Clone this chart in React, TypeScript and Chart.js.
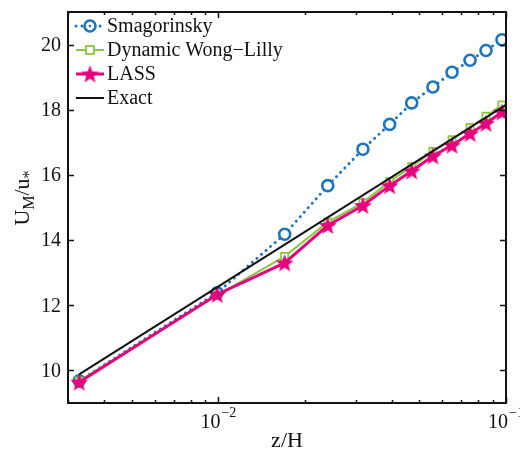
import React, { useEffect, useRef } from "react";
import { Chart, registerables } from "chart.js";

Chart.register(...registerables);

// ---- data ----
const zOverH = [0.00328, 0.0099, 0.017, 0.024, 0.0318, 0.0394, 0.047, 0.0557, 0.0649, 0.075, 0.0852, 0.0968];
const smagorinsky = [9.68, 12.38, 14.18, 15.67, 16.79, 17.55, 18.21, 18.7, 19.15, 19.52, 19.82, 20.15];
const dynamicWongLilly = [9.68, 12.3, 13.5, 14.55, 15.15, 15.8, 16.25, 16.72, 17.08, 17.46, 17.8, 18.15];
const lass = [9.64, 12.33, 13.3, 14.45, 15.06, 15.67, 16.12, 16.58, 16.91, 17.27, 17.58, 17.93];
const exactZ = [0.00328, 0.1];
const exactU = [9.88, 18.15];

const yTickValues = [10, 12, 14, 16, 18, 20];
const xMajorTicks = [0.01, 0.1];
const xMajorLabels = [{ base: "10", exp: "\u22122" }, { base: "10", exp: "\u22121" }];
const xMinorTicks = [0.003, 0.004, 0.005, 0.006, 0.007, 0.008, 0.009, 0.02, 0.03, 0.04, 0.05, 0.06, 0.07, 0.08, 0.09];
const legendLabels = ["Smagorinsky", "Dynamic Wong\u2212Lilly", "LASS", "Exact"];

const BLUE = "#1b75bf";
const GREEN = "#8dc63f";
const MAGENTA = "#e6007e";
const BLACK = "#111111";
const SERIF = '"Liberation Serif", "Times New Roman", serif';

function makeStar(color: string, outer: number, inner: number) {
  const size = Math.ceil(outer * 2 + 2);
  const c = document.createElement("canvas");
  c.width = size;
  c.height = size;
  const ctx = c.getContext("2d")!;
  ctx.fillStyle = color;
  ctx.beginPath();
  for (let i = 0; i < 10; i++) {
    const r = i % 2 === 0 ? outer : inner;
    const a = -Math.PI / 2 + (i * Math.PI) / 5;
    const x = size / 2 + r * Math.cos(a);
    const y = size / 2 + r * Math.sin(a) + 0.8;
    if (i === 0) ctx.moveTo(x, y);
    else ctx.lineTo(x, y);
  }
  ctx.closePath();
  ctx.fill();
  return c;
}

export default function App() {
  const ref = useRef<HTMLCanvasElement | null>(null);

  useEffect(() => {
    const canvas = ref.current;
    if (!canvas) return;
    const star = makeStar(MAGENTA, 9.5, 4);

    const decor = {
      id: "decor",
      afterDraw(chart: any) {
        const ctx = chart.ctx as CanvasRenderingContext2D;
        const { left, right, top, bottom } = chart.chartArea;
        const xs = chart.scales.x;
        const ys = chart.scales.y;
        ctx.save();
        // box
        ctx.strokeStyle = BLACK;
        ctx.lineWidth = 2;
        ctx.strokeRect(left, top, right - left, bottom - top);
        // ticks
        ctx.lineWidth = 1.5;
        ctx.beginPath();
        yTickValues.forEach((v) => {
          const y = Math.round(ys.getPixelForValue(v)) + 0.5;
          ctx.moveTo(left, y);
          ctx.lineTo(left + 6, y);
          ctx.moveTo(right, y);
          ctx.lineTo(right - 6, y);
        });
        xMajorTicks.forEach((v) => {
          const x = Math.round(xs.getPixelForValue(v)) + 0.5;
          ctx.moveTo(x, bottom);
          ctx.lineTo(x, bottom - 6);
          ctx.moveTo(x, top);
          ctx.lineTo(x, top + 6);
        });
        xMinorTicks.forEach((v) => {
          const x = Math.round(xs.getPixelForValue(v)) + 0.5;
          ctx.moveTo(x, bottom);
          ctx.lineTo(x, bottom - 3);
          ctx.moveTo(x, top);
          ctx.lineTo(x, top + 3);
        });
        ctx.stroke();

        // y tick labels
        ctx.fillStyle = BLACK;
        ctx.font = `20px ${SERIF}`;
        ctx.textAlign = "right";
        ctx.textBaseline = "middle";
        yTickValues.forEach((v) => {
          ctx.fillText(String(v), left - 7, ys.getPixelForValue(v) + 1);
        });
        // x tick labels
        xMajorTicks.forEach((v, i) => {
          const x = xs.getPixelForValue(v);
          ctx.font = `20px ${SERIF}`;
          ctx.textAlign = "right";
          ctx.textBaseline = "alphabetic";
          ctx.fillText(xMajorLabels[i].base, x + 2, bottom + 25);
          ctx.font = `14px ${SERIF}`;
          ctx.textAlign = "left";
          ctx.fillText(xMajorLabels[i].exp, x + 3, bottom + 14);
        });
        // x title
        ctx.font = `22px ${SERIF}`;
        ctx.textAlign = "center";
        ctx.textBaseline = "alphabetic";
        ctx.fillText("z/H", (left + right) / 2, bottom + 44);

        // y title  U_M / u_*
        ctx.save();
        ctx.translate(29, 198);
        ctx.rotate(-Math.PI / 2);
        const parts = [
          { t: "U", f: 22, dy: 0 },
          { t: "M", f: 16, dy: 5 },
          { t: "/u", f: 22, dy: 0 },
          { t: "*", f: 16, dy: 5 },
        ];
        let total = 0;
        parts.forEach((p) => {
          ctx.font = `${p.f}px ${SERIF}`;
          total += ctx.measureText(p.t).width;
        });
        let cx = -total / 2;
        ctx.textAlign = "left";
        parts.forEach((p) => {
          ctx.font = `${p.f}px ${SERIF}`;
          ctx.fillText(p.t, cx, p.dy);
          cx += ctx.measureText(p.t).width;
        });
        ctx.restore();

        // legend
        const rows = [26, 50, 74, 98];
        const x0 = 76, x1 = 104, mx = 90;
        ctx.font = `20px ${SERIF}`;
        ctx.textAlign = "left";
        ctx.textBaseline = "middle";
        rows.forEach((y, i) => {
          ctx.save();
          ctx.beginPath();
          if (i === 0) {
            ctx.strokeStyle = BLUE;
            ctx.lineWidth = 3;
            ctx.lineCap = "round";
            ctx.setLineDash([0.01, 6]);
          } else if (i === 1) {
            ctx.strokeStyle = GREEN;
            ctx.lineWidth = 2;
          } else if (i === 2) {
            ctx.strokeStyle = MAGENTA;
            ctx.lineWidth = 3;
          } else {
            ctx.strokeStyle = BLACK;
            ctx.lineWidth = 2;
          }
          ctx.moveTo(x0, y);
          ctx.lineTo(x1, y);
          ctx.stroke();
          ctx.setLineDash([]);
          if (i === 0) {
            ctx.beginPath();
            ctx.arc(mx, y, 5.5, 0, Math.PI * 2);
            ctx.fillStyle = "#ffffff";
            ctx.fill();
            ctx.lineWidth = 2.6;
            ctx.strokeStyle = BLUE;
            ctx.stroke();
            ctx.beginPath();
            ctx.arc(mx, y, 1.3, 0, Math.PI * 2);
            ctx.fillStyle = BLUE;
            ctx.fill();
          } else if (i === 1) {
            ctx.fillStyle = "#ffffff";
            ctx.fillRect(mx - 4, y - 4, 8, 8);
            ctx.lineWidth = 1.8;
            ctx.strokeStyle = GREEN;
            ctx.strokeRect(mx - 4, y - 4, 8, 8);
          } else if (i === 2) {
            ctx.drawImage(star, mx - star.width / 2, y - star.height / 2);
          }
          ctx.restore();
          ctx.fillStyle = BLACK;
          ctx.fillText(legendLabels[i], 107, y + 1);
        });
        ctx.restore();
      },
    };

    const chart = new Chart(canvas, {
      type: "line",
      data: {
        datasets: [
          {
            label: legendLabels[3],
            data: exactZ.map((z, i) => ({ x: z, y: exactU[i] })),
            borderColor: BLACK,
            borderWidth: 2,
            pointRadius: 0,
            order: 0,
          },
          {
            label: legendLabels[2],
            data: zOverH.map((z, i) => ({ x: z, y: lass[i] })),
            borderColor: MAGENTA,
            borderWidth: 3,
            pointStyle: star as any,
            pointRadius: 9,
            order: 1,
          },
          {
            label: legendLabels[1],
            data: zOverH.map((z, i) => ({ x: z, y: dynamicWongLilly[i] })),
            borderColor: GREEN,
            borderWidth: 2,
            pointStyle: "rect",
            pointRadius: 5,
            pointBorderWidth: 1.8,
            pointBorderColor: GREEN,
            pointBackgroundColor: "#ffffff",
            order: 2,
          },
          {
            label: legendLabels[0],
            data: zOverH.map((z, i) => ({ x: z, y: smagorinsky[i] })),
            borderColor: BLUE,
            borderWidth: 3,
            borderDash: [0.01, 6],
            borderCapStyle: "round",
            pointStyle: "circle",
            pointRadius: 5.5,
            pointBorderWidth: 2.6,
            pointBorderColor: BLUE,
            pointBackgroundColor: "#ffffff",
            order: 3,
          },
        ],
      },
      options: {
        responsive: false,
        animation: false,
        layout: { padding: { left: 68, top: 7, right: 14, bottom: 48 } },
        plugins: { legend: { display: false }, tooltip: { enabled: false } },
        scales: {
          x: { type: "logarithmic", min: 0.003, max: 0.1, display: false },
          y: { type: "linear", min: 9, max: 21, display: false },
        },
      },
      plugins: [decor],
    });
    return () => chart.destroy();
  }, []);

  return (
    <div style={{ position: "fixed", left: 0, top: 0, width: 520, height: 451, background: "#ffffff" }}>
      <canvas ref={ref} width={520} height={451} style={{ width: 520, height: 451 }} />
    </div>
  );
}
